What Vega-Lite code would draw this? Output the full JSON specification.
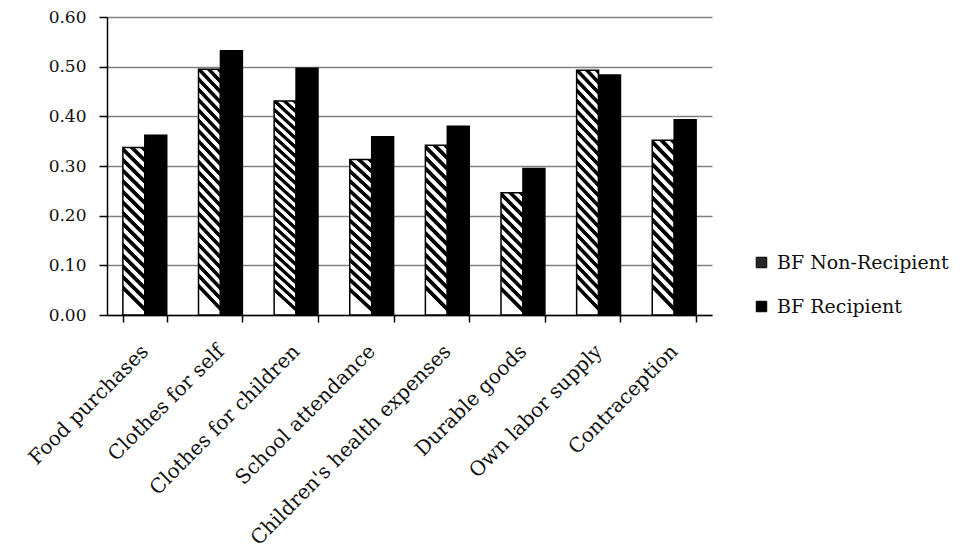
{
  "$schema": "https://vega.github.io/schema/vega-lite/v6.json",
  "width": 605,
  "height": 298,
  "autosize": {"type": "none"},
  "padding": {"left": 107, "top": 17, "right": 254, "bottom": 236},
  "background": "#ffffff",
  "config": {"view": {"stroke": null}},
  "data": {
    "values": [
      {"category": "Food purchases", "series": "BF Non-Recipient", "value": 0.337},
      {"category": "Food purchases", "series": "BF Recipient", "value": 0.362},
      {"category": "Clothes for self", "series": "BF Non-Recipient", "value": 0.495},
      {"category": "Clothes for self", "series": "BF Recipient", "value": 0.532},
      {"category": "Clothes for children", "series": "BF Non-Recipient", "value": 0.431},
      {"category": "Clothes for children", "series": "BF Recipient", "value": 0.497},
      {"category": "School attendance", "series": "BF Non-Recipient", "value": 0.313},
      {"category": "School attendance", "series": "BF Recipient", "value": 0.359},
      {"category": "Children's health expenses", "series": "BF Non-Recipient", "value": 0.342},
      {"category": "Children's health expenses", "series": "BF Recipient", "value": 0.38},
      {"category": "Durable goods", "series": "BF Non-Recipient", "value": 0.246},
      {"category": "Durable goods", "series": "BF Recipient", "value": 0.295},
      {"category": "Own labor supply", "series": "BF Non-Recipient", "value": 0.493},
      {"category": "Own labor supply", "series": "BF Recipient", "value": 0.483},
      {"category": "Contraception", "series": "BF Non-Recipient", "value": 0.352},
      {"category": "Contraception", "series": "BF Recipient", "value": 0.393}
    ]
  },
  "mark": {"type": "bar", "stroke": "#000000", "strokeWidth": 1.5},
  "encoding": {
    "x": {
      "field": "category",
      "type": "nominal",
      "sort": null,
      "scale": {"paddingInner": 0.42, "paddingOuter": 0.21},
      "axis": {
        "title": null,
        "labelAngle": -45,
        "labelAlign": "right",
        "labelBaseline": "middle",
        "tickBand": "extent",
        "domainColor": "#000000",
        "domainWidth": 1.5,
        "tickColor": "#000000",
        "tickWidth": 1.5,
        "tickSize": 7,
        "labelFont": "DejaVu Serif",
        "labelFontSize": 20,
        "labelColor": "#111111",
        "labelPadding": 26,
        "labelLimit": 500
      }
    },
    "xOffset": {
      "field": "series",
      "type": "nominal",
      "sort": ["BF Non-Recipient", "BF Recipient"],
      "scale": {"paddingInner": 0, "paddingOuter": 0}
    },
    "y": {
      "field": "value",
      "type": "quantitative",
      "scale": {"domain": [0, 0.6], "nice": false},
      "axis": {
        "title": null,
        "values": [0, 0.1, 0.2, 0.3, 0.4, 0.5, 0.6],
        "format": ".2f",
        "grid": true,
        "gridColor": "#808080",
        "gridWidth": 1.5,
        "domainColor": "#000000",
        "domainWidth": 1.5,
        "tickColor": "#000000",
        "tickWidth": 1.5,
        "tickSize": 8,
        "labelPadding": 13,
        "labelFont": "DejaVu Serif",
        "labelFontSize": 17,
        "labelColor": "#111111"
      }
    },
    "color": {
      "condition": [
        {
          "test": "datum.series === 'BF Non-Recipient' && datum.value < 0.28",
          "value": {
            "gradient": "linear", "x1": 1, "y1": 0, "x2": 0.82, "y2": 1,
            "stops": [
              {"offset": 0, "color": "#000"}, {"offset": 0.0333, "color": "#000"}, {"offset": 0.0417, "color": "#fff"}, {"offset": 0.075, "color": "#fff"},
              {"offset": 0.0833, "color": "#000"}, {"offset": 0.1167, "color": "#000"}, {"offset": 0.125, "color": "#fff"}, {"offset": 0.1583, "color": "#fff"},
              {"offset": 0.1667, "color": "#000"}, {"offset": 0.2, "color": "#000"}, {"offset": 0.2083, "color": "#fff"}, {"offset": 0.2417, "color": "#fff"},
              {"offset": 0.25, "color": "#000"}, {"offset": 0.2833, "color": "#000"}, {"offset": 0.2917, "color": "#fff"}, {"offset": 0.325, "color": "#fff"},
              {"offset": 0.3333, "color": "#000"}, {"offset": 0.3667, "color": "#000"}, {"offset": 0.375, "color": "#fff"}, {"offset": 0.4083, "color": "#fff"},
              {"offset": 0.4167, "color": "#000"}, {"offset": 0.45, "color": "#000"}, {"offset": 0.4583, "color": "#fff"}, {"offset": 0.4917, "color": "#fff"},
              {"offset": 0.5, "color": "#000"}, {"offset": 0.5333, "color": "#000"}, {"offset": 0.5417, "color": "#fff"}, {"offset": 0.575, "color": "#fff"},
              {"offset": 0.5833, "color": "#000"}, {"offset": 0.6167, "color": "#000"}, {"offset": 0.625, "color": "#fff"}, {"offset": 0.6583, "color": "#fff"},
              {"offset": 0.6667, "color": "#000"}, {"offset": 0.7, "color": "#000"}, {"offset": 0.7083, "color": "#fff"}, {"offset": 0.7417, "color": "#fff"},
              {"offset": 0.75, "color": "#000"}, {"offset": 0.7833, "color": "#000"}, {"offset": 0.7917, "color": "#fff"}, {"offset": 0.825, "color": "#fff"},
              {"offset": 0.8333, "color": "#000"}, {"offset": 0.8667, "color": "#000"}, {"offset": 0.875, "color": "#fff"}, {"offset": 0.9083, "color": "#fff"},
              {"offset": 0.9167, "color": "#000"}, {"offset": 0.95, "color": "#000"}, {"offset": 0.9583, "color": "#fff"}, {"offset": 1, "color": "#fff"}
            ]
          }
        },
        {
          "test": "datum.series === 'BF Non-Recipient' && datum.value < 0.40",
          "value": {
            "gradient": "linear", "x1": 1, "y1": 0, "x2": 0.87, "y2": 1,
            "stops": [
              {"offset": 0, "color": "#000"}, {"offset": 0.025, "color": "#000"}, {"offset": 0.0313, "color": "#fff"}, {"offset": 0.0563, "color": "#fff"},
              {"offset": 0.0625, "color": "#000"}, {"offset": 0.0875, "color": "#000"}, {"offset": 0.0938, "color": "#fff"}, {"offset": 0.1188, "color": "#fff"},
              {"offset": 0.125, "color": "#000"}, {"offset": 0.15, "color": "#000"}, {"offset": 0.1563, "color": "#fff"}, {"offset": 0.1813, "color": "#fff"},
              {"offset": 0.1875, "color": "#000"}, {"offset": 0.2125, "color": "#000"}, {"offset": 0.2188, "color": "#fff"}, {"offset": 0.2438, "color": "#fff"},
              {"offset": 0.25, "color": "#000"}, {"offset": 0.275, "color": "#000"}, {"offset": 0.2813, "color": "#fff"}, {"offset": 0.3063, "color": "#fff"},
              {"offset": 0.3125, "color": "#000"}, {"offset": 0.3375, "color": "#000"}, {"offset": 0.3438, "color": "#fff"}, {"offset": 0.3688, "color": "#fff"},
              {"offset": 0.375, "color": "#000"}, {"offset": 0.4, "color": "#000"}, {"offset": 0.4063, "color": "#fff"}, {"offset": 0.4313, "color": "#fff"},
              {"offset": 0.4375, "color": "#000"}, {"offset": 0.4625, "color": "#000"}, {"offset": 0.4688, "color": "#fff"}, {"offset": 0.4938, "color": "#fff"},
              {"offset": 0.5, "color": "#000"}, {"offset": 0.525, "color": "#000"}, {"offset": 0.5313, "color": "#fff"}, {"offset": 0.5563, "color": "#fff"},
              {"offset": 0.5625, "color": "#000"}, {"offset": 0.5875, "color": "#000"}, {"offset": 0.5938, "color": "#fff"}, {"offset": 0.6188, "color": "#fff"},
              {"offset": 0.625, "color": "#000"}, {"offset": 0.65, "color": "#000"}, {"offset": 0.6563, "color": "#fff"}, {"offset": 0.6813, "color": "#fff"},
              {"offset": 0.6875, "color": "#000"}, {"offset": 0.7125, "color": "#000"}, {"offset": 0.7188, "color": "#fff"}, {"offset": 0.7438, "color": "#fff"},
              {"offset": 0.75, "color": "#000"}, {"offset": 0.775, "color": "#000"}, {"offset": 0.7813, "color": "#fff"}, {"offset": 0.8063, "color": "#fff"},
              {"offset": 0.8125, "color": "#000"}, {"offset": 0.8375, "color": "#000"}, {"offset": 0.8438, "color": "#fff"}, {"offset": 0.8688, "color": "#fff"},
              {"offset": 0.875, "color": "#000"}, {"offset": 0.9, "color": "#000"}, {"offset": 0.9063, "color": "#fff"}, {"offset": 0.9313, "color": "#fff"},
              {"offset": 0.9375, "color": "#000"}, {"offset": 0.9625, "color": "#000"}, {"offset": 0.9688, "color": "#fff"}, {"offset": 1, "color": "#fff"}
            ]
          }
        },
        {
          "test": "datum.series === 'BF Non-Recipient'",
          "value": {
            "gradient": "linear", "x1": 1, "y1": 0, "x2": 0.906, "y2": 1,
            "stops": [
              {"offset": 0, "color": "#000"}, {"offset": 0.0167, "color": "#000"}, {"offset": 0.0208, "color": "#fff"}, {"offset": 0.0375, "color": "#fff"},
              {"offset": 0.0417, "color": "#000"}, {"offset": 0.0583, "color": "#000"}, {"offset": 0.0625, "color": "#fff"}, {"offset": 0.0792, "color": "#fff"},
              {"offset": 0.0833, "color": "#000"}, {"offset": 0.1, "color": "#000"}, {"offset": 0.1042, "color": "#fff"}, {"offset": 0.1208, "color": "#fff"},
              {"offset": 0.125, "color": "#000"}, {"offset": 0.1417, "color": "#000"}, {"offset": 0.1458, "color": "#fff"}, {"offset": 0.1625, "color": "#fff"},
              {"offset": 0.1667, "color": "#000"}, {"offset": 0.1833, "color": "#000"}, {"offset": 0.1875, "color": "#fff"}, {"offset": 0.2042, "color": "#fff"},
              {"offset": 0.2083, "color": "#000"}, {"offset": 0.225, "color": "#000"}, {"offset": 0.2292, "color": "#fff"}, {"offset": 0.2458, "color": "#fff"},
              {"offset": 0.25, "color": "#000"}, {"offset": 0.2667, "color": "#000"}, {"offset": 0.2708, "color": "#fff"}, {"offset": 0.2875, "color": "#fff"},
              {"offset": 0.2917, "color": "#000"}, {"offset": 0.3083, "color": "#000"}, {"offset": 0.3125, "color": "#fff"}, {"offset": 0.3292, "color": "#fff"},
              {"offset": 0.3333, "color": "#000"}, {"offset": 0.35, "color": "#000"}, {"offset": 0.3542, "color": "#fff"}, {"offset": 0.3708, "color": "#fff"},
              {"offset": 0.375, "color": "#000"}, {"offset": 0.3917, "color": "#000"}, {"offset": 0.3958, "color": "#fff"}, {"offset": 0.4125, "color": "#fff"},
              {"offset": 0.4167, "color": "#000"}, {"offset": 0.4333, "color": "#000"}, {"offset": 0.4375, "color": "#fff"}, {"offset": 0.4542, "color": "#fff"},
              {"offset": 0.4583, "color": "#000"}, {"offset": 0.475, "color": "#000"}, {"offset": 0.4792, "color": "#fff"}, {"offset": 0.4958, "color": "#fff"},
              {"offset": 0.5, "color": "#000"}, {"offset": 0.5167, "color": "#000"}, {"offset": 0.5208, "color": "#fff"}, {"offset": 0.5375, "color": "#fff"},
              {"offset": 0.5417, "color": "#000"}, {"offset": 0.5583, "color": "#000"}, {"offset": 0.5625, "color": "#fff"}, {"offset": 0.5792, "color": "#fff"},
              {"offset": 0.5833, "color": "#000"}, {"offset": 0.6, "color": "#000"}, {"offset": 0.6042, "color": "#fff"}, {"offset": 0.6208, "color": "#fff"},
              {"offset": 0.625, "color": "#000"}, {"offset": 0.6417, "color": "#000"}, {"offset": 0.6458, "color": "#fff"}, {"offset": 0.6625, "color": "#fff"},
              {"offset": 0.6667, "color": "#000"}, {"offset": 0.6833, "color": "#000"}, {"offset": 0.6875, "color": "#fff"}, {"offset": 0.7042, "color": "#fff"},
              {"offset": 0.7083, "color": "#000"}, {"offset": 0.725, "color": "#000"}, {"offset": 0.7292, "color": "#fff"}, {"offset": 0.7458, "color": "#fff"},
              {"offset": 0.75, "color": "#000"}, {"offset": 0.7667, "color": "#000"}, {"offset": 0.7708, "color": "#fff"}, {"offset": 0.7875, "color": "#fff"},
              {"offset": 0.7917, "color": "#000"}, {"offset": 0.8083, "color": "#000"}, {"offset": 0.8125, "color": "#fff"}, {"offset": 0.8292, "color": "#fff"},
              {"offset": 0.8333, "color": "#000"}, {"offset": 0.85, "color": "#000"}, {"offset": 0.8542, "color": "#fff"}, {"offset": 0.8708, "color": "#fff"},
              {"offset": 0.875, "color": "#000"}, {"offset": 0.8917, "color": "#000"}, {"offset": 0.8958, "color": "#fff"}, {"offset": 0.9125, "color": "#fff"},
              {"offset": 0.9167, "color": "#000"}, {"offset": 0.9333, "color": "#000"}, {"offset": 0.9375, "color": "#fff"}, {"offset": 0.9542, "color": "#fff"},
              {"offset": 0.9583, "color": "#000"}, {"offset": 0.975, "color": "#000"}, {"offset": 0.9792, "color": "#fff"}, {"offset": 1, "color": "#fff"}
            ]
          }
        }
      ],
      "field": "series",
      "type": "nominal",
      "scale": {
        "domain": ["BF Non-Recipient", "BF Recipient"],
        "range": ["#262626", "#000000"]
      },
      "legend": {
        "title": null,
        "orient": "none",
        "legendX": 645,
        "legendY": 236,
        "symbolType": "square",
        "symbolSize": 110,
        "symbolStrokeColor": "#000000",
        "symbolStrokeWidth": 1,
        "labelFont": "DejaVu Serif",
        "labelFontSize": 19,
        "labelColor": "#111111",
        "labelOffset": 6,
        "rowPadding": 24,
        "labelLimit": 400
      }
    }
  }
}
